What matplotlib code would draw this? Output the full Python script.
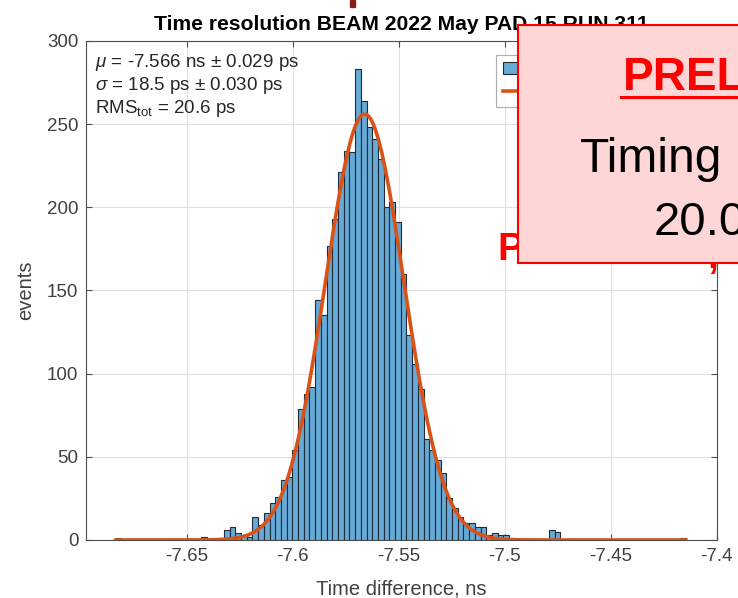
import numpy as np
import matplotlib.pyplot as plt
from matplotlib.patches import Rectangle
from matplotlib.lines import Line2D

plt.rcParams['font.family'] = ['Liberation Sans', 'DejaVu Sans']
plt.rcParams['mathtext.fontset'] = 'custom'
plt.rcParams['mathtext.rm'] = 'Liberation Sans'
plt.rcParams['mathtext.it'] = 'Liberation Sans:italic'

# histogram: 100 bins between min and max of the time difference (ns)
t_min = -7.6835
t_max = -7.4145
counts = [1, 0, 0, 0, 0, 0, 0, 0, 0, 0,
          0, 0, 0, 0, 0, 2, 0, 0, 1, 6,
          8, 4, 3, 2, 14, 9, 16, 22, 26, 36,
          38, 54, 79, 88, 92, 144, 135, 177, 193, 221,
          234, 233, 283, 264, 248, 241, 229, 200, 203, 191,
          160, 123, 106, 91, 61, 54, 48, 40, 25, 19,
          14, 10, 10, 8, 8, 3, 4, 3, 3, 1,
          0, 0, 0, 0, 0, 0, 6, 5, 0, 0,
          0, 0, 0, 0, 0, 0, 0, 0, 0, 0,
          0, 0, 0, 0, 0, 0, 0, 0, 0, 1]

# gaussian fit
mu = -7.566        # ns
sigma = 0.0185     # ns
amp = 256

title = 'Time resolution BEAM 2022 May PAD 15 RUN 311'
stats = [r'$\mu$ = -7.566 ns ± 0.029 ps',
         r'$\sigma$ = 18.5 ps ± 0.030 ps',
         r'RMS$_{\rm tot}$ = 20.6 ps']
xticks = [-7.65, -7.6, -7.55, -7.5, -7.45, -7.4]
xticklabels = ['-7.65', '-7.6', '-7.55', '-7.5', '-7.45', '-7.4']
yticks = [0, 50, 100, 150, 200, 250, 300]

edges = np.linspace(t_min, t_max, len(counts) + 1)
xf = np.linspace(t_min, t_max, 500)
yf = amp * np.exp(-(xf - mu) ** 2 / (2 * sigma ** 2))

fig = plt.figure(figsize=(7.38, 5.98), dpi=100)
ax = fig.add_axes([0.1165, 0.0970, 0.8544, 0.8345])

h_bar = ax.bar(edges[:-1], counts, width=np.diff(edges), align='edge',
               color='#66aad7', edgecolor='#1f2c38', linewidth=0.8, zorder=2)
h_fit, = ax.plot(xf, yf, color='#d95319', linewidth=2.6, zorder=3)

ax.set_xlim(-7.6975, -7.4)
ax.set_ylim(0, 300)
ax.set_xticks(xticks)
ax.set_xticklabels(xticklabels)
ax.set_yticks(yticks)
ax.grid(True, color='#dfdfdf', linewidth=0.8, zorder=0)
ax.set_axisbelow(True)
ax.tick_params(direction='in', top=True, right=True, length=4.5, width=0.8,
               labelsize=13.5, labelcolor='#404040', color='#4d4d4d', pad=5.5)
for s in ax.spines.values():
    s.set_color('#4d4d4d')
    s.set_linewidth(0.8)

ax.set_title(title, fontsize=15.2, fontweight='bold', pad=8)
ax.set_xlabel('Time difference, ns', fontsize=14.5, color='#404040')
ax.set_ylabel('events', fontsize=14.5, color='#404040')
ax.xaxis.set_label_coords(0.5, -0.079)
ax.yaxis.set_label_coords(-0.08, 0.5)

for i, s in enumerate(stats):
    ax.text(0.0143, 0.9473 - i * 0.0457, s, transform=ax.transAxes,
            fontsize=13.5, color='#262626', va='baseline', ha='left')

leg = ax.legend([h_bar, h_fit], ['data', 'fit'], loc='upper left',
                bbox_to_anchor=(0.651, 0.972), fontsize=12,
                frameon=True, fancybox=False, edgecolor='#9a9a9a',
                handlelength=1.6, borderaxespad=0)
leg.get_frame().set_linewidth(0.8)

# slide overlay on top of the plot
W, H = 738.0, 598.0
def fx(px):
    return px / W
def fy(py):
    return 1 - py / H

fig.add_artist(Rectangle((fx(350), fy(7)), 5 / W, 7 / H, transform=fig.transFigure,
                         color='#8b1c1c', zorder=5))
fig.text(fx(497), fy(260), 'P', fontsize=28, fontweight='bold', color='#ff0000',
         zorder=6)
fig.text(fx(707), fy(268), ',', fontsize=28, fontweight='bold', color='#ff0000',
         zorder=6)
fig.add_artist(Rectangle((fx(518), fy(263)), 240 / W, 238 / H, transform=fig.transFigure,
                         facecolor='#ffd6d6', edgecolor='#ff0000', linewidth=1.5, zorder=10))
fig.text(fx(623), fy(90), 'PREL', fontsize=33, fontweight='bold', color='#ff0000',
         zorder=11)
fig.add_artist(Line2D([fx(621), fx(745)], [fy(97), fy(97)], transform=fig.transFigure,
                      color='#ff0000', linewidth=2.2, zorder=11))
fig.text(fx(580), fy(172), 'Timing', fontsize=34.5, color='black', zorder=11)
fig.text(fx(654), fy(235), '20.0', fontsize=34, color='black', zorder=11)

fig.savefig('out.png', dpi=100)
